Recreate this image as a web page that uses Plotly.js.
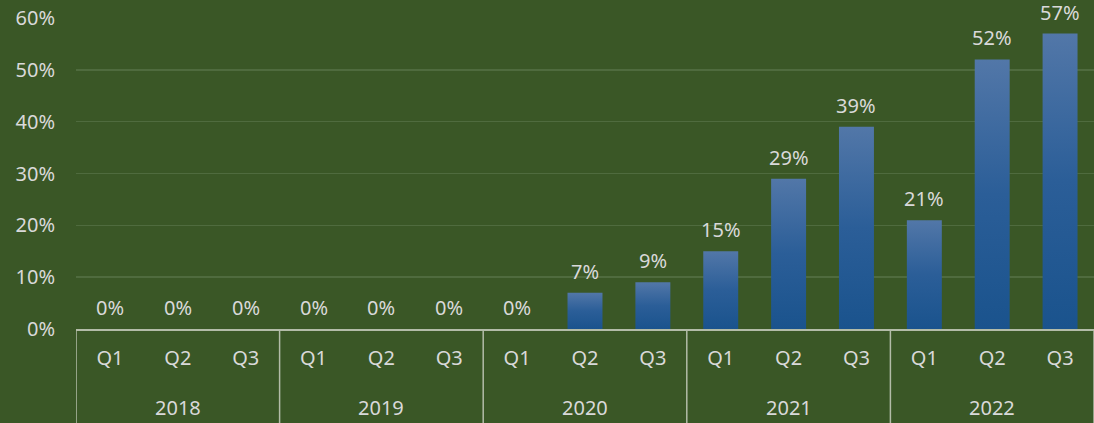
<!DOCTYPE html>
<html>
<head>
<meta charset="utf-8">
<script src="https://cdn.plot.ly/plotly-3.0.1.min.js"></script>
<style>
html,body{margin:0;padding:0;background:#3a5726;}
#chart{width:1094px;height:423px;}
</style>
</head>
<body>
<div id="chart"></div>
<script>
const years = ["2018","2018","2018","2019","2019","2019","2020","2020","2020","2021","2021","2021","2022","2022","2022"];
const quarters = ["Q1","Q2","Q3","Q1","Q2","Q3","Q1","Q2","Q3","Q1","Q2","Q3","Q1","Q2","Q3"];
const values = [0,0,0,0,0,0,0,0.07,0.09,0.15,0.29,0.39,0.21,0.52,0.57];
const yTicks = [0,0.1,0.2,0.3,0.4,0.5,0.6];
const yTickText = ["0%","10%","20%","30%","40%","50%","60%"];

const textColor = "#d9d9d9";
const lineColor = "#b3bca8";
const fontFam = "Noto Sans, Open Sans, sans-serif";

const idx = values.map((v, i) => i);

// group years
const groups = [];
years.forEach((y, i) => {
  const g = groups[groups.length - 1];
  if (g && g.year === y) g.end = i; else groups.push({year: y, start: i, end: i});
});

const bottomFrac = (423 - 329) / (423 - 18 - 94);

const shapes = [];
groups.forEach((g, k) => {
  shapes.push({type: "line", xref: "x", yref: "paper", x0: g.start - 0.5, x1: g.start - 0.5, y0: 0, y1: -bottomFrac,
    line: {color: lineColor, width: 1.5}});
  if (k === groups.length - 1) {
    shapes.push({type: "line", xref: "x", yref: "paper", x0: g.end + 0.5, x1: g.end + 0.5, y0: 0, y1: -bottomFrac,
      line: {color: lineColor, width: 1.5}});
  }
});

const annotations = [];
groups.forEach(g => {
  annotations.push({xref: "x", yref: "paper", x: (g.start + g.end) / 2, y: -(407 - 329) / 311,
    text: g.year, showarrow: false, yanchor: "middle",
    font: {size: 20, color: textColor, family: fontFam}});
});
values.forEach((v, i) => {
  annotations.push({xref: "x", yref: "y", x: i, y: v, text: Math.round(v * 100) + "%",
    showarrow: false, yanchor: "bottom", yshift: 6,
    font: {size: 20, color: textColor, family: fontFam}});
});

const trace = {
  type: "bar",
  x: idx,
  y: values,
  marker: {color: "#2d5f98", line: {width: 0}},
  hoverinfo: "none"
};

const layout = {
  width: 1094, height: 423,
  margin: {l: 76, r: 0, t: 18, b: 94},
  paper_bgcolor: "#3a5726",
  plot_bgcolor: "#3a5726",
  bargap: 0.485,
  showlegend: false,
  font: {family: fontFam, color: textColor, size: 20},
  shapes: shapes,
  annotations: annotations,
  xaxis: {
    range: [-0.5, values.length - 0.5],
    tickvals: idx, ticktext: quarters,
    showline: true, linecolor: lineColor, linewidth: 1.5,
    ticks: "", showgrid: false, zeroline: false,
    tickfont: {size: 20, color: textColor, family: fontFam},
    ticklabelstandoff: 10
  },
  yaxis: {
    range: [0, 0.6],
    tickvals: yTicks, ticktext: yTickText,
    showgrid: true, gridcolor: "#4f6b3e", gridwidth: 1.5,
    zeroline: false, showline: false, ticks: "",
    tickfont: {size: 20, color: textColor, family: fontFam},
    ticklabelstandoff: 20
  }
};

Plotly.newPlot("chart", [trace], layout, {staticPlot: true}).then(function(gd){
  const svg = gd.querySelector("svg.main-svg");
  const ns = "http://www.w3.org/2000/svg";
  let defs = svg.querySelector("defs");
  if (!defs) { defs = document.createElementNS(ns, "defs"); svg.insertBefore(defs, svg.firstChild); }
  const lg = document.createElementNS(ns, "linearGradient");
  lg.setAttribute("id", "barGrad");
  lg.setAttribute("x1", "0"); lg.setAttribute("y1", "0");
  lg.setAttribute("x2", "0"); lg.setAttribute("y2", "1");
  const stops = [["0", "#5277a8"], ["0.5", "#2b5e98"], ["1", "#1a538d"]];
  stops.forEach(s => {
    const st = document.createElementNS(ns, "stop");
    st.setAttribute("offset", s[0]);
    st.setAttribute("stop-color", s[1]);
    lg.appendChild(st);
  });
  defs.appendChild(lg);
  gd.querySelectorAll(".barlayer .point path").forEach(p => {
    p.style.fill = "url(#barGrad)";
  });
});
</script>
</body>
</html>
